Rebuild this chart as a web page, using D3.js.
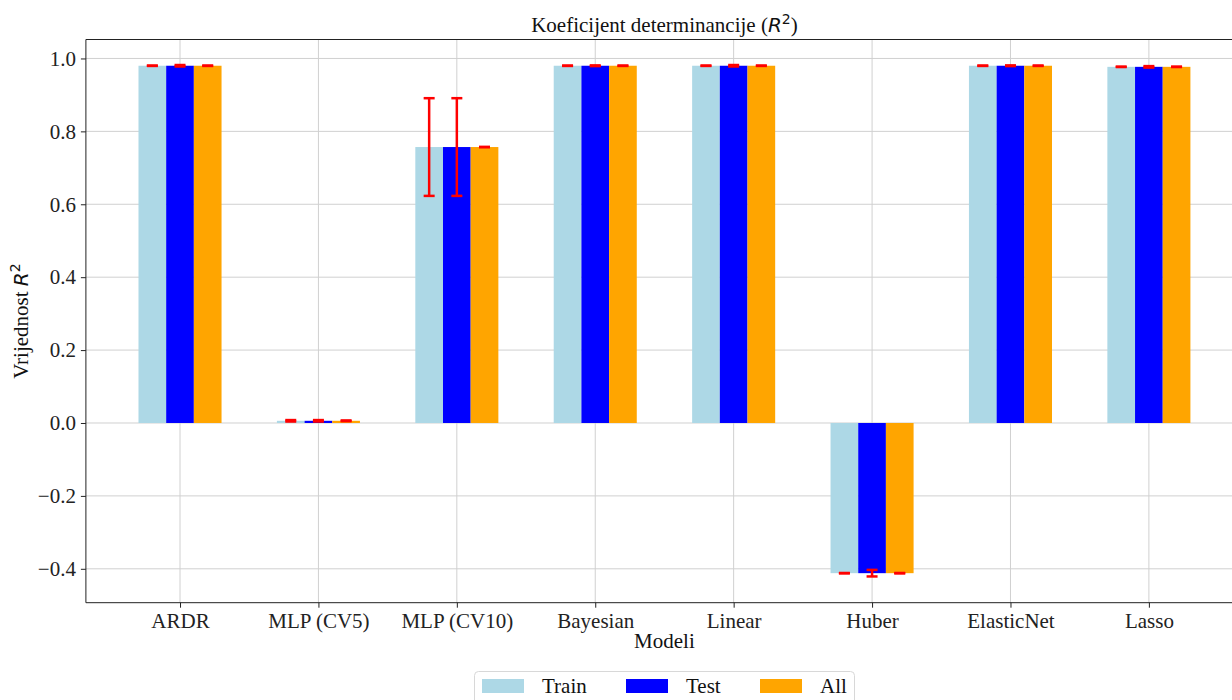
<!DOCTYPE html>
<html><head><meta charset="utf-8">
<script src="https://cdn.jsdelivr.net/npm/d3@7"></script>
<style>body{margin:0;background:#fff}svg{display:block}</style>
</head><body>
<script>
const categories = ["ARDR","MLP (CV5)","MLP (CV10)","Bayesian","Linear","Huber","ElasticNet","Lasso"];
const seriesNames = ["Train","Test","All"];
const trainVals = [0.980, 0.006, 0.757, 0.980, 0.980, -0.412, 0.980, 0.977];
const testVals  = [0.980, 0.006, 0.757, 0.980, 0.980, -0.412, 0.980, 0.977];
const allVals   = [0.980, 0.006, 0.757, 0.980, 0.980, -0.412, 0.980, 0.977];
const trainStd  = [0.0005, 0.002, 0.134, 0.0005, 0.0005, 0.0005, 0.0005, 0.0005];
const testStd   = [0.002, 0.002, 0.134, 0.001, 0.002, 0.009, 0.001, 0.002];
const allStd    = [0.0005, 0.001, 0.0005, 0.0005, 0.0005, 0.0005, 0.0005, 0.0005];
const yTicks = [-0.4, -0.2, 0.0, 0.2, 0.4, 0.6, 0.8, 1.0];
const colors = ["#add8e6", "#0000ff", "#ffa500"];

const W = 1232, H = 700;
const L = 85.9, R = 1243, T = 39.5, B = 602.7;
const FS = 21;
const svg = d3.select("body").append("svg").attr("width", W).attr("height", H)
  .style("font-family", "'Liberation Serif','Times New Roman',serif");

const x = d3.scaleLinear().domain([-0.68, categories.length - 1 + 0.68]).range([L, R]);
const y = d3.scaleLinear().domain([-0.493, 1.052]).range([B, T]);
const bw = 0.2;

// grid
const g = svg.append("g");
g.selectAll(".gy").data(yTicks).join("line")
  .attr("x1", L).attr("x2", R).attr("y1", d => y(d)).attr("y2", d => y(d))
  .attr("stroke", "#d0d0d0").attr("stroke-width", 1);
g.selectAll(".gx").data(categories).join("line")
  .attr("x1", (d,i) => x(i)).attr("x2", (d,i) => x(i)).attr("y1", T).attr("y2", B)
  .attr("stroke", "#d0d0d0").attr("stroke-width", 1);

const series = [
  {name: seriesNames[0], vals: trainVals, std: trainStd, off: -bw},
  {name: seriesNames[1], vals: testVals, std: testStd, off: 0},
  {name: seriesNames[2], vals: allVals, std: allStd, off: bw}
];

series.forEach((s, si) => {
  svg.append("g").selectAll("rect").data(s.vals).join("rect")
    .attr("x", (d,i) => x(i + s.off - bw/2))
    .attr("width", (d,i) => x(i + s.off + bw/2) - x(i + s.off - bw/2))
    .attr("y", d => y(Math.max(0, d)))
    .attr("height", d => Math.abs(y(d) - y(0)))
    .attr("fill", colors[si]);
});

// error bars
series.forEach((s) => {
  const eg = svg.append("g").attr("stroke", "red").attr("stroke-width", 2.5);
  s.vals.forEach((v, i) => {
    const cx = x(i + s.off);
    const lo = v - s.std[i], hi = v + s.std[i];
    eg.append("line").attr("x1", cx).attr("x2", cx).attr("y1", y(lo)).attr("y2", y(hi));
    [lo, hi].forEach(e => eg.append("line").attr("x1", cx - 5.5).attr("x2", cx + 5.5)
      .attr("y1", y(e)).attr("y2", y(e)));
  });
});

// spines
svg.append("line").attr("x1", L).attr("x2", L).attr("y1", T).attr("y2", B).attr("stroke", "#222").attr("stroke-width", 1);
svg.append("line").attr("x1", L).attr("x2", R).attr("y1", T).attr("y2", T).attr("stroke", "#222").attr("stroke-width", 1);
svg.append("line").attr("x1", L).attr("x2", R).attr("y1", B).attr("y2", B).attr("stroke", "#222").attr("stroke-width", 1);

// axes
const yAxis = d3.axisLeft(y).tickValues(yTicks).tickSize(5).tickPadding(5)
  .tickFormat(d => (d < 0 ? "\u2212" : "") + Math.abs(d).toFixed(1));
const ya = svg.append("g").attr("transform", `translate(${L},0)`).call(yAxis);
ya.select(".domain").remove();
ya.selectAll("line").attr("stroke", "#222");
ya.selectAll("text").attr("font-size", FS).attr("fill", "#222")
  .style("font-family", "'Liberation Serif','Times New Roman',serif");

const xAxis = d3.axisBottom(x).tickValues(d3.range(categories.length)).tickSize(5).tickPadding(5)
  .tickFormat(i => categories[i]);
const xa = svg.append("g").attr("transform", `translate(0,${B})`).call(xAxis);
xa.select(".domain").remove();
xa.selectAll("line").attr("stroke", "#222");
xa.selectAll("text").attr("font-size", FS).attr("fill", "#222")
  .style("font-family", "'Liberation Serif','Times New Roman',serif");

// title
const title = svg.append("text").attr("x", (L + R) / 2).attr("y", 32).attr("text-anchor", "middle")
  .attr("font-size", FS).attr("fill", "#111");
title.append("tspan").text("Koeficijent determinancije (");
title.append("tspan").text("R").style("font-family", "'DejaVu Sans'").style("font-style", "italic").attr("font-size", 20);
title.append("tspan").text("2").style("font-family", "'DejaVu Sans'").attr("font-size", 14).attr("dy", -8);
title.append("tspan").text(")").attr("dy", 8);

// axis labels
svg.append("text").attr("x", (L + R) / 2).attr("y", 648).attr("text-anchor", "middle")
  .attr("font-size", FS).attr("fill", "#111").text("Modeli");
const yl = svg.append("text").attr("transform", `translate(28,${(T + B) / 2}) rotate(-90)`)
  .attr("text-anchor", "middle").attr("font-size", FS).attr("fill", "#111");
yl.append("tspan").text("Vrijednost ");
yl.append("tspan").text("R").style("font-family", "'DejaVu Sans'").style("font-style", "italic").attr("font-size", 20);
yl.append("tspan").text("2").style("font-family", "'DejaVu Sans'").attr("font-size", 14).attr("dy", -8);

// legend
const lg = svg.append("g");
lg.append("rect").attr("x", 474.5).attr("y", 671.5).attr("width", 380).attr("height", 45).attr("rx", 4)
  .attr("fill", "#fff").attr("stroke", "#d8d8d8").attr("stroke-width", 1);
const lx = [482, 626, 760];
seriesNames.forEach((n, i) => {
  lg.append("rect").attr("x", lx[i]).attr("y", 679).attr("width", 42).attr("height", 14).attr("fill", colors[i]);
  lg.append("text").attr("x", lx[i] + 60).attr("y", 693).attr("font-size", FS).attr("fill", "#111").text(n);
});
</script>
</body></html>
